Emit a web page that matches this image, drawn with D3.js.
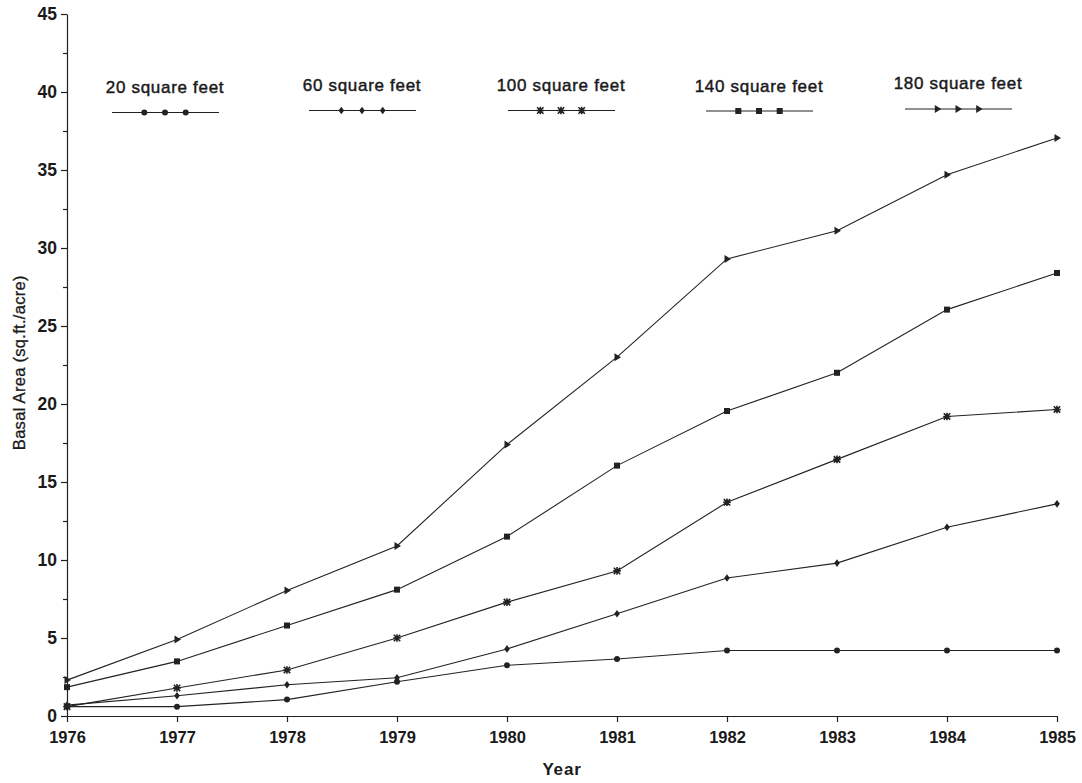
<!DOCTYPE html>
<html>
<head>
<meta charset="utf-8">
<script src="https://cdn.jsdelivr.net/npm/d3@7"></script>
<style>
  html, body { margin: 0; padding: 0; background: #fff; }
  svg { display: block; }
  text { font-family: "Liberation Sans", Arial, Helvetica, sans-serif; fill: #1a1a1a; }
</style>
</head>
<body>
<svg id="chart" width="1082" height="783"></svg>
<script>
// Basal area growth by planting spacing, 1976–1985
const years = [1976, 1977, 1978, 1979, 1980, 1981, 1982, 1983, 1984, 1985];
const sq20  = [0.6, 0.6, 1.05, 2.2, 3.25, 3.65, 4.2, 4.2, 4.2, 4.2];
const sq60  = [0.7, 1.3, 2.0, 2.45, 4.3, 6.55, 8.85, 9.8, 12.1, 13.6];
const sq100 = [0.6, 1.8, 2.95, 5.0, 7.3, 9.3, 13.7, 16.45, 19.2, 19.65];
const sq140 = [1.85, 3.5, 5.8, 8.1, 11.5, 16.05, 19.55, 22.0, 26.05, 28.4];
const sq180 = [2.3, 4.9, 8.05, 10.9, 17.4, 23.0, 29.3, 31.1, 34.7, 37.05];
const seriesNames = ["20 square feet", "60 square feet", "100 square feet", "140 square feet", "180 square feet"];
const seriesValues = [sq20, sq60, sq100, sq140, sq180];
const markerTypes = ["circle", "diamond", "star", "square", "triangle"];
const yTicks = [0, 5, 10, 15, 20, 25, 30, 35, 40, 45];

const svg = d3.select("#chart");
const ink = "#222";

const x = d3.scaleLinear().domain([1976, 1985]).range([67, 1057]);
const y = d3.scaleLinear().domain([0, 45]).range([716, 14]);

// Axes
const xAxis = d3.axisBottom(x).tickValues(years).tickFormat(d3.format("d")).tickSize(6).tickSizeOuter(0).tickPadding(6);
const gx = svg.append("g").attr("transform", `translate(0,${y(0)})`).call(xAxis);
gx.selectAll("text").attr("font-size", 16.5).attr("font-weight", "bold").attr("fill", "#1a1a1a").attr("dy", "0.9em");

const yMinor = d3.axisLeft(y).tickValues(d3.range(2.5, 45, 5)).tickSize(4).tickFormat("").tickSizeOuter(0);
svg.append("g").attr("transform", `translate(${x(1976)},0)`).call(yMinor)
  .call(g => g.select(".domain").remove());
const yAxis = d3.axisLeft(y).tickValues(yTicks).tickSize(6).tickSizeOuter(0).tickPadding(4);
const gy = svg.append("g").attr("transform", `translate(${x(1976)},0)`).call(yAxis);
gy.selectAll("text").attr("font-size", 17.5).attr("font-weight", "bold").attr("fill", "#1a1a1a");

svg.selectAll(".domain, .tick line").attr("stroke", ink).attr("stroke-width", 1.2);

// Axis titles
svg.append("text").attr("x", x(1980.5)).attr("y", 775).attr("text-anchor", "middle")
  .attr("font-size", 17).attr("font-weight", "bold").attr("letter-spacing", 0.8).text("Year");
svg.append("text").attr("transform", `translate(25,${y(22.65)}) rotate(-90)`).attr("text-anchor", "middle")
  .attr("font-size", 16.5).attr("letter-spacing", 0.3)
  .attr("stroke", "#1a1a1a").attr("stroke-width", 0.3).text("Basal Area (sq.ft./acre)");

// Marker shapes
function drawMarker(g, type, cx, cy) {
  if (type === "circle") {
    g.append("circle").attr("cx", cx).attr("cy", cy).attr("r", 3).attr("fill", ink);
  } else if (type === "diamond") {
    g.append("path").attr("d", `M${cx},${cy-3.8}L${cx+2.8},${cy}L${cx},${cy+3.8}L${cx-2.8},${cy}Z`).attr("fill", ink);
  } else if (type === "square") {
    g.append("rect").attr("x", cx - 3).attr("y", cy - 3).attr("width", 6).attr("height", 6).attr("fill", ink);
  } else if (type === "triangle") {
    g.append("path").attr("d", `M${cx-2.5},${cy-4}L${cx+4},${cy}L${cx-2.5},${cy+4}Z`).attr("fill", ink);
  } else if (type === "star") {
    const s = 3.2;
    g.append("path")
      .attr("d", `M${cx-s},${cy-s}L${cx+s},${cy+s}M${cx-s},${cy+s}L${cx+s},${cy-s}M${cx},${cy-s-0.6}L${cx},${cy+s+0.6}M${cx-s-0.6},${cy}L${cx+s+0.6},${cy}`)
      .attr("stroke", ink).attr("stroke-width", 1.6).attr("fill", "none");
  }
}

// Series lines and markers
const line = d3.line().x((d, i) => x(years[i])).y(d => y(d));
seriesValues.forEach((vals, si) => {
  const g = svg.append("g");
  g.append("path").attr("d", line(vals)).attr("fill", "none").attr("stroke", ink).attr("stroke-width", 1.1);
  vals.forEach((v, i) => drawMarker(g, markerTypes[si], x(years[i]), y(v)));
});

// Legend across the top
const legendCenters = [165, 362, 561, 759, 958];
const legendTextY = [93, 90.5, 90.5, 91.5, 88.5];
const legendLineY = [112.5, 110.5, 110.5, 111, 109];
seriesNames.forEach((name, si) => {
  const cx = legendCenters[si];
  const g = svg.append("g");
  g.append("text").attr("x", cx).attr("y", legendTextY[si]).attr("text-anchor", "middle")
    .attr("font-size", 17).attr("letter-spacing", 0.7)
    .attr("stroke", "#1a1a1a").attr("stroke-width", 0.45).text(name);
  const ly = legendLineY[si];
  g.append("line").attr("x1", cx - 53).attr("x2", cx + 54).attr("y1", ly).attr("y2", ly)
    .attr("stroke", ink).attr("stroke-width", 1);
  [-20.7, 0, 20.7].forEach(dx => drawMarker(g, markerTypes[si], cx + dx, ly));
});
</script>
</body>
</html>
